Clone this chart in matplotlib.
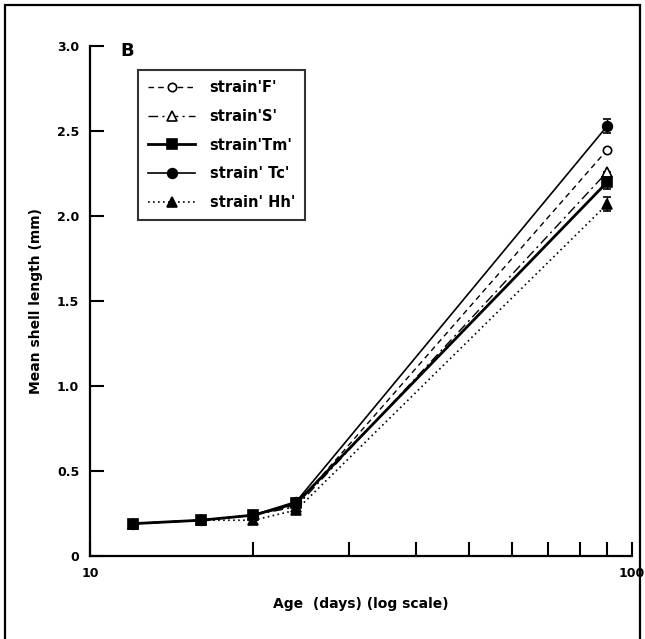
import matplotlib
matplotlib.use("Agg")
import matplotlib.pyplot as plt
from matplotlib.lines import Line2D
from matplotlib.patches import Rectangle

plt.rcParams['font.family'] = ['DejaVu Sans']

# age in days (log axis)
ages = [12, 16, 20, 24, 90]

# mean shell length (mm) per strain
strain_F = [0.19, 0.21, 0.24, 0.30, 2.39]
strain_S = [0.19, 0.21, 0.24, 0.29, 2.26]
strain_Tm = [0.19, 0.21, 0.24, 0.31, 2.20]
strain_Tc = [0.19, 0.21, 0.24, 0.32, 2.53]
strain_Hh = [0.19, 0.21, 0.21, 0.27, 2.07]

# error bars (only visible on the last point)
err_F = [0, 0, 0, 0, 0.0]
err_S = [0, 0, 0, 0, 0.0]
err_Tm = [0, 0, 0, 0, 0.04]
err_Tc = [0, 0, 0, 0, 0.04]
err_Hh = [0, 0, 0, 0, 0.04]

labels = ["strain'F'", "strain'S'", "strain'Tm'", "strain' Tc'", "strain' Hh'"]

fig = plt.figure(figsize=(6.45, 6.39), dpi=100)
ax = fig.add_axes([0.140, 0.130, 0.840, 0.798])

# frame around whole figure
fig.patches.append(Rectangle((0.008, -0.05), 0.985, 1.042, transform=fig.transFigure,
                             fill=False, edgecolor='black', linewidth=1.6))

series = [
    (strain_F, err_F, (0, (4, 3)), 'o', 'white', 1.0, 6),
    (strain_S, err_S, (0, (7, 3, 1.5, 3)), '^', 'white', 1.0, 7),
    (strain_Tm, err_Tm, '-', 's', 'black', 2.0, 7),
    (strain_Tc, err_Tc, '-', 'o', 'black', 1.2, 7),
    (strain_Hh, err_Hh, (0, (1, 2)), '^', 'black', 1.2, 7),
]

handles = []
for (vals, err, ls, mk, mfc, lw, ms), lab in zip(series, labels):
    ax.errorbar(ages, vals, yerr=err, linestyle=ls, marker=mk, color='black',
                markerfacecolor=mfc, markeredgecolor='black', linewidth=lw,
                markersize=ms, capsize=3, elinewidth=1.0, markeredgewidth=1.2)
    handles.append(Line2D([], [], linestyle=ls, marker=mk, color='black',
                          markerfacecolor=mfc, markeredgecolor='black',
                          linewidth=lw, markersize=ms, markeredgewidth=1.2))

ax.set_xscale('log')
ax.set_xlim(10, 100)
ax.set_ylim(0, 3.0)

ax.set_xticks([10, 100])
ax.set_xticklabels(['10', '100'])
ax.set_xticks([20, 30, 40, 50, 60, 70, 80, 90], minor=True)
ax.xaxis.set_minor_formatter(plt.NullFormatter())
ax.set_yticks([0, 0.5, 1.0, 1.5, 2.0, 2.5, 3.0])
ax.set_yticklabels(['0', '0.5', '1.0', '1.5', '2.0', '2.5', '3.0'])

ax.tick_params(axis='both', which='both', direction='in', width=1.5, labelsize=9)
ax.tick_params(axis='both', which='major', length=10, pad=8)
ax.tick_params(axis='x', which='minor', length=10)
for t in ax.get_xticklabels() + ax.get_yticklabels():
    t.set_fontweight('bold')

ax.spines['top'].set_visible(False)
ax.spines['right'].set_visible(False)
ax.spines['left'].set_linewidth(1.6)
ax.spines['bottom'].set_linewidth(1.6)

ax.set_xlabel('Age  (days) (log scale)', fontsize=10, fontweight='bold', labelpad=12)
ax.set_ylabel('Mean shell length (mm)', fontsize=10, fontweight='bold', labelpad=10)

ax.text(0.068, 0.99, 'B', transform=ax.transAxes, fontsize=13, fontweight='bold',
        va='center', ha='center')

leg = ax.legend(handles, labels, loc='upper left', bbox_to_anchor=(0.075, 0.968),
                fontsize=10.5, handlelength=3.2, frameon=True, fancybox=False,
                borderpad=0.7, labelspacing=0.95, handletextpad=1.0)
leg.get_frame().set_edgecolor('black')
leg.get_frame().set_linewidth(1.5)
for t in leg.get_texts():
    t.set_fontweight('bold')

fig.savefig('out.png', dpi=100)
